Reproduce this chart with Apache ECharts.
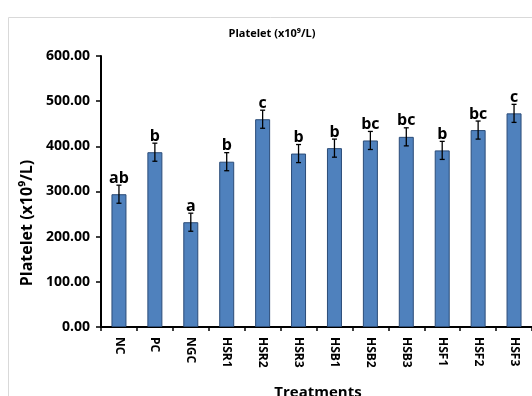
<!DOCTYPE html>
<html><head><meta charset="utf-8">
<script src="https://cdn.jsdelivr.net/npm/echarts@6/dist/echarts.min.js"></script>
<style>html,body{margin:0;padding:0;background:#fff}#c{width:532px;height:396px}</style>
</head><body><div id="c"></div>
<script>
var categories = ['NC','PC','NGC','HSR1','HSR2','HSR3','HSB1','HSB2','HSB3','HSF1','HSF2','HSF3'];
var values = [294, 387, 232, 366, 460, 384, 396, 413, 421, 391, 436, 473];
var errors = [20, 20, 20, 20, 20, 20, 20, 20, 20, 20, 20, 20];
var letters = ['ab','b','a','b','c','b','b','bc','bc','b','bc','c'];
var yTicks = [0, 100, 200, 300, 400, 500, 600];

var FONT = '"Open Sans", sans-serif';
var chart = echarts.init(document.getElementById('c'));
var errData = values.map(function(v, i){ return [i, v, errors[i], letters[i]]; });
chart.setOption({
  animation: false,
  graphic: [
    {type:'rect', shape:{x:8.5, y:17.5, width:600, height:500}, style:{fill:'none', stroke:'#d9d9d9', lineWidth:1}, z:-1},
    {type:'text', x:272, y:34, style:{x:0, y:0, text:'Platelet (x10⁹/L)', font:'bold 11px '+FONT, fill:'#000', textAlign:'center', textVerticalAlign:'middle'}},
    {type:'text', x:27, y:223, rotation:Math.PI/2, style:{x:0, y:0, text:'Platelet (x10⁹/L)', font:'bold 16px '+FONT, fill:'#000', textAlign:'center', textVerticalAlign:'middle'}},
    {type:'text', x:318, y:393, style:{x:0, y:0, text:'Treatments', font:'bold 15px '+FONT, fill:'#000', textAlign:'center', textVerticalAlign:'middle'}}
  ],
  grid: {left:101, right:-4, top:56, bottom:69, containLabel:false},
  xAxis: {
    type:'category', data:categories,
    axisLine:{lineStyle:{color:'#000', width:2}},
    axisTick:{show:true, length:4, lineStyle:{color:'#000', width:1.5}},
    axisLabel:{rotate:-90, color:'#000', fontWeight:'bold', fontSize:12, fontFamily:FONT, margin:10}
  },
  yAxis: {
    type:'value', min:0, max:600, interval:100,
    axisLine:{show:true, lineStyle:{color:'#000', width:2}},
    axisTick:{show:true, length:5, lineStyle:{color:'#000', width:1.5}},
    splitLine:{show:false},
    axisLabel:{color:'#000', fontWeight:'bold', fontSize:14, fontFamily:FONT, margin:11,
      formatter:function(v){ return v.toFixed(2); }}
  },
  series: [
    {type:'bar', data:values, barWidth:15,
     itemStyle:{color:'#4F81BD', borderColor:'#2b4c78', borderWidth:1}},
    {type:'custom', data:errData, z:10,
     renderItem:function(params, api){
       var i = api.value(0), v = api.value(1), e = api.value(2);
       var top = api.coord([i, v+e]), bot = api.coord([i, v-e]);
       var x = top[0], cw = 2.5;
       return {type:'group', children:[
         {type:'line', shape:{x1:x, y1:top[1], x2:x, y2:bot[1]}, style:{stroke:'#000', lineWidth:1.3}},
         {type:'line', shape:{x1:x-cw, y1:top[1], x2:x+cw, y2:top[1]}, style:{stroke:'#000', lineWidth:1.3}},
         {type:'line', shape:{x1:x-cw, y1:bot[1], x2:x+cw, y2:bot[1]}, style:{stroke:'#000', lineWidth:1.3}},
         {type:'text', style:{x:x, y:top[1]+1, text:letters[params.dataIndex], font:'bold 16px '+FONT, fill:'#000', textAlign:'center', textVerticalAlign:'bottom'}}
       ]};
     }}
  ]
});
</script></body></html>
